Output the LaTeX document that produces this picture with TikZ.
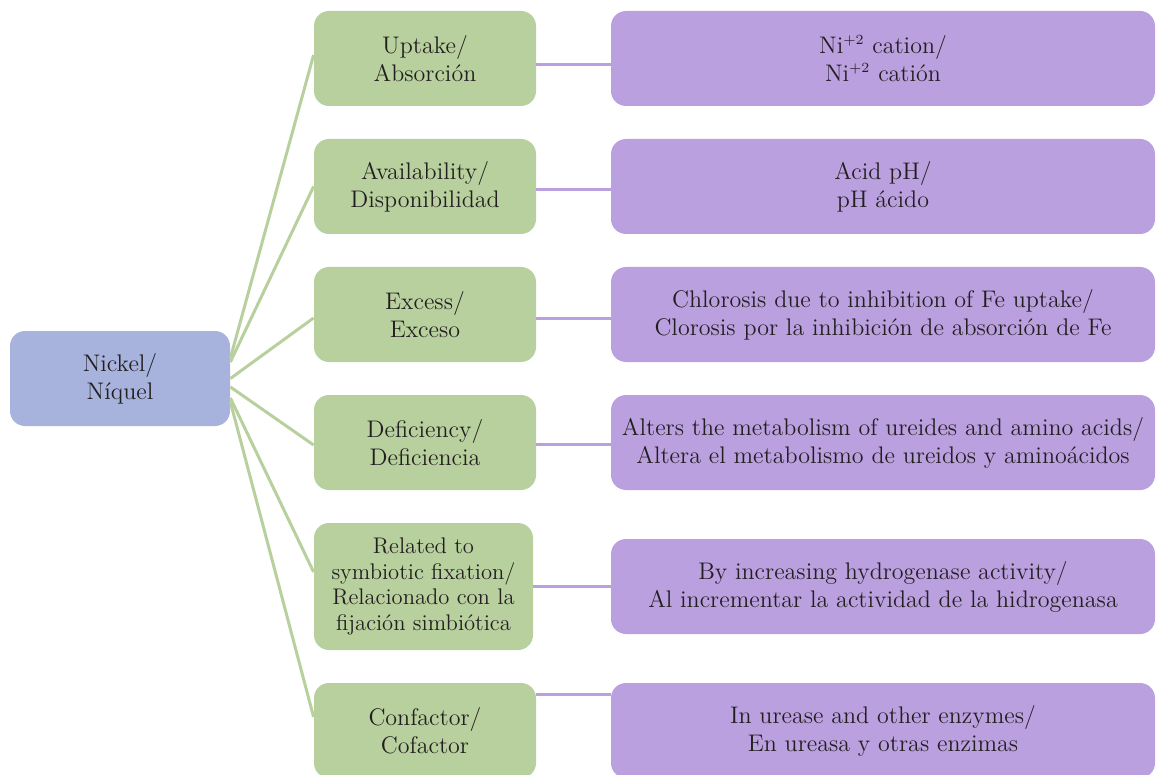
\documentclass[tikz,border=0pt]{standalone}
\usepackage{fontspec}
\usetikzlibrary{positioning}

\definecolor{rootblue}{HTML}{A7B3DC}
\definecolor{topicgreen}{HTML}{B8D09E}
\definecolor{notepurple}{HTML}{BBA0E0}
\definecolor{inktext}{HTML}{231F20}

\tikzset{
  box/.style={rounded corners=7.5pt, align=center, text=inktext, inner xsep=0.5pt,
    inner ysep=2pt, font=\fontsize{12}{14}\selectfont},
  root/.style={box, fill=rootblue, minimum width=110pt, minimum height=47.5pt},
  topic/.style={box, fill=topicgreen, minimum width=111pt, minimum height=47.5pt},
  note/.style={box, fill=notepurple, minimum width=272pt, minimum height=47.5pt},
  glink/.style={draw=topicgreen, line width=1.5pt},
  plink/.style={draw=notepurple, line width=1.5pt},
}
\newcommand{\ionsup}[1]{\textsuperscript{\scriptsize #1}}

\begin{document}
\begin{tikzpicture}[x=0.5pt,y=-0.5pt]
  \clip (0,0) rectangle (1156,775);
% Root
  \node[root] (nickel) at (120,378.5) {Nickel/\\Níquel};
% Topics
  \node[topic] (uptake) at (425,58.5) {Uptake/\\Absorción};
  \node[topic] (avail) at (425,186.5) {Availability/\\Disponibilidad};
  \node[topic] (excess) at (425,314.5) {Excess/\\Exceso};
  \node[topic] (defic) at (425,442.5) {Deficiency/\\Deficiencia};
  \node[topic, minimum width=109.5pt, minimum height=63.5pt,
    font=\fontsize{11.3}{12.9}\selectfont] (fixat) at (423.5,586.5)
    {Related to\\symbiotic fixation/\\Relacionado con la\\fijación simbiótica};
  \node[topic] (cofac) at (425,730.5) {Confactor/\\Cofactor};
% Notes
  \node[note] (cation) at (883,58.5) {Ni\ionsup{+2} cation/\\Ni\ionsup{+2} catión};
  \node[note] (acid) at (883,186.5) {Acid pH/\\pH ácido};
  \node[note] (chlor) at (883,314.5) {Chlorosis due to inhibition of Fe uptake/\\Clorosis por la inhibición de absorción de Fe};
  \node[note] (metab) at (883,442.5) {Alters the metabolism of ureides and amino acids/\\Altera el metabolismo de ureidos y aminoácidos};
  \node[note] (hydro) at (883,586.5) {By increasing hydrogenase activity/\\Al incrementar la actividad de la hidrogenasa};
  \node[note] (urease) at (883,730.5) {In urease and other enzymes/\\En ureasa y otras enzimas};
%
% Root to topics
  \draw[glink] ([yshift=10.25pt]nickel.east) -- ([yshift=1.75pt]uptake.west);
  \draw[glink] ([yshift=8.25pt]nickel.east) -- (avail.west);
  \draw[glink] (nickel.east) -- ([yshift=-1.75pt]excess.west);
  \draw[glink] ([yshift=-4.25pt]nickel.east) -- ([yshift=-1.25pt]defic.west);
  \draw[glink] ([yshift=-9.75pt]nickel.east) -- ([yshift=7.25pt]fixat.west);
  \draw[glink] ([yshift=-11.75pt]nickel.east) -- ([yshift=6.75pt]cofac.west);
% Topics to notes
  \draw[plink] ([yshift=-3.25pt]uptake.east) -- ([yshift=-3.25pt]cation.west);
  \draw[plink] ([yshift=-1.75pt]avail.east) -- ([yshift=-1.75pt]acid.west);
  \draw[plink] ([yshift=-1.75pt]excess.east) -- ([yshift=-1.75pt]chlor.west);
  \draw[plink] ([yshift=-0.75pt]defic.east) -- ([yshift=-0.75pt]metab.west);
  \draw[plink] (fixat.east) -- (hydro.west);
  \draw[plink] ([yshift=18.25pt]cofac.east) -- ([yshift=18.25pt]urease.west);
\end{tikzpicture}
\end{document}
